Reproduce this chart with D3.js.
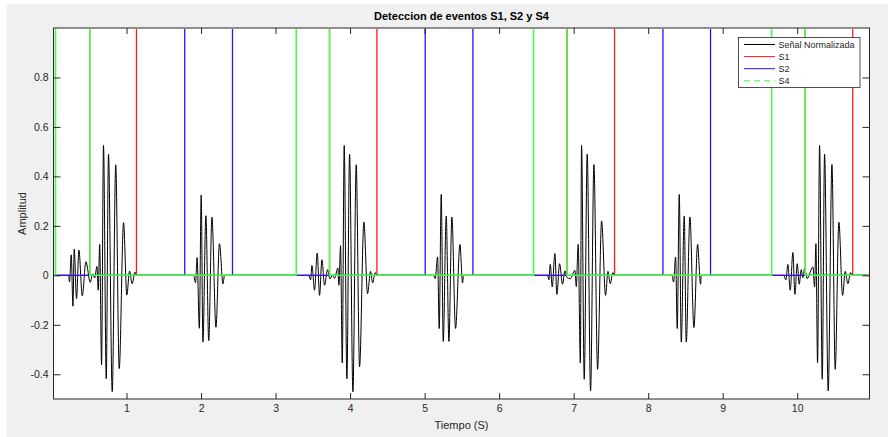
<!DOCTYPE html>
<html>
<head>
<meta charset="utf-8">
<script src="https://cdn.jsdelivr.net/npm/d3@7"></script>
<style>
  body { margin: 0; background: #fff; }
  text { font-family: "Liberation Sans", Arial, sans-serif; }
</style>
</head>
<body>
<svg id="chart" width="888" height="437"></svg>
<script>
// axis limits and ticks
const TIME_EXTENT = [0.02, 10.97]
const AMP_EXTENT = [-0.5, 1]
const xTicks = [1, 2, 3, 4, 5, 6, 7, 8, 9, 10]
const yTicks = [-0.4, -0.2, 0, 0.2, 0.4, 0.6, 0.8]

// normalized signal, read as [time (s), amplitude] at each turning point
const burst1 = [
  [0.222, 0], [0.235, -0.027], [0.258, 0.083], [0.281, -0.125], [0.298, 0.106],
  [0.329, -0.094], [0.361, 0.102], [0.406, -0.083], [0.455, 0.055], [0.513, -0.028],
  [0.546, 0.005], [0.573, -0.01], [0.603, 0.036], [0.620, -0.06], [0.640, 0.125],
  [0.665, -0.362], [0.691, 0.525], [0.728, -0.418], [0.758, 0.49], [0.808, -0.47],
  [0.855, 0.447], [0.902, -0.377], [0.960, 0.213], [1.004, -0.08], [1.040, 0.017],
  [1.076, -0.034], [1.113, 0.013], [1.134, 0],
]
const burst2 = [
  [1.899, 0], [1.926, -0.03], [1.947, 0.072], [1.977, -0.214], [2.002, 0.325],
  [2.025, -0.27], [2.065, 0.241], [2.103, -0.264], [2.146, 0.235], [2.200, -0.21],
  [2.247, 0.128], [2.294, -0.035], [2.315, 0],
]
const burst3 = [
  [3.443, 0], [3.470, -0.018], [3.488, 0.04], [3.523, -0.06], [3.559, 0.09],
  [3.590, -0.081], [3.622, 0.063], [3.657, -0.04], [3.698, 0.023], [3.729, -0.015],
  [3.760, 0], [3.792, -0.012], [3.836, 0.03], [3.850, -0.04], [3.872, 0.12],
  [3.895, -0.354], [3.921, 0.525], [3.957, -0.418], [3.993, 0.49], [4.038, -0.471],
  [4.082, 0.447], [4.127, -0.37], [4.185, 0.215], [4.234, -0.074], [4.275, 0.016],
  [4.302, -0.031], [4.337, 0.011], [4.364, 0],
]
const burst4 = [
  [5.120, 0], [5.143, -0.013], [5.174, 0.074], [5.196, -0.215], [5.223, 0.327],
  [5.250, -0.267], [5.290, 0.24], [5.326, -0.267], [5.366, 0.236], [5.415, -0.215],
  [5.474, 0.125], [5.509, -0.031], [5.523, 0],
]
const burst5 = [
  [6.650, 0], [6.668, -0.018], [6.686, 0.044], [6.713, -0.047], [6.748, 0.088],
  [6.775, -0.077], [6.811, 0.047], [6.851, -0.036], [6.883, 0.018], [6.909, -0.008],
  [6.954, -0.014], [7.017, 0.02], [7.035, -0.045], [7.061, 0.125], [7.090, -0.354],
  [7.106, 0.525], [7.142, -0.42], [7.182, 0.49], [7.227, -0.467], [7.272, 0.448],
  [7.321, -0.38], [7.375, 0.22], [7.428, -0.081], [7.460, 0.016], [7.491, -0.034],
  [7.527, 0.011], [7.545, 0],
]
const burst6 = [
  [8.318, 0], [8.341, -0.027], [8.368, 0.074], [8.390, -0.215], [8.417, 0.327],
  [8.444, -0.27], [8.484, 0.24], [8.511, -0.27], [8.560, 0.236], [8.614, -0.211],
  [8.663, 0.125], [8.703, -0.036], [8.712, 0],
]
const burst7 = [
  [9.817, 0], [9.848, -0.018], [9.875, 0.044], [9.906, -0.06], [9.942, 0.092],
  [9.969, -0.077], [10.000, 0.047], [10.027, -0.036], [10.054, 0.023], [10.076, -0.01],
  [10.099, 0.027], [10.134, -0.013], [10.211, 0.034], [10.233, -0.047], [10.251, 0.128],
  [10.273, -0.354], [10.300, 0.525], [10.336, -0.42], [10.367, 0.49], [10.416, -0.467],
  [10.466, 0.448], [10.510, -0.38], [10.559, 0.215], [10.609, -0.081], [10.644, 0.016],
  [10.680, -0.034], [10.716, 0.011], [10.743, 0],
]

// event detections: [rise, fall] of each unit pulse, in seconds
const s1Pulses = [[0.506, 1.133], [3.724, 4.360], [6.910, 7.549], [10.108, 10.745]]
const s2Pulses = [[1.781, 2.422], [5.008, 5.648], [8.198, 8.837]]
const s4Pulses = [[0.047, 0.506], [3.277, 3.724], [6.462, 6.910], [9.657, 10.108]]

const legendLabels = ['Señal Normalizada', 'S1', 'S2', 'S4']


const AXIS_COLOR = '#262626'
const frame = { left: 53.5, right: 869.5, top: 28, bottom: 399 }

const x = d3.scaleLinear().domain(TIME_EXTENT).range([frame.left, frame.right])
const y = d3.scaleLinear().domain(AMP_EXTENT).range([frame.bottom, frame.top])

function pulsesToSteps(pulses) {
  // unit pulses -> polyline of a 0/1 step signal over the whole time span
  const pts = [[TIME_EXTENT[0], 0]]
  pulses.forEach(([on, off]) => {
    pts.push([on, 0], [on, 1], [off, 1], [off, 0])
  })
  pts.push([TIME_EXTENT[1], 0])
  return pts
}

const signal = [[TIME_EXTENT[0], 0]]
  .concat(burst1, burst2, burst3, burst4, burst5, burst6, burst7)
  .concat([[TIME_EXTENT[1], 0]])

// S4 is dashed in the legend; at this sample density matlab draws it solid in the axes
const series = [
  { name: legendLabels[0], pts: signal, color: '#000', dash: null, curve: d3.curveMonotoneX, width: 1 },
  { name: legendLabels[1], pts: pulsesToSteps(s1Pulses), color: '#ff1a1a', dash: null, curve: d3.curveLinear, width: 1.3 },
  { name: legendLabels[2], pts: pulsesToSteps(s2Pulses), color: '#1a1aff', dash: null, curve: d3.curveLinear, width: 1.3 },
  { name: legendLabels[3], pts: pulsesToSteps(s4Pulses), color: '#3dff3d', dash: '6,4', curve: d3.curveLinear, width: 1.5 },
]

const svg = d3.select('#chart')

// figure background
svg.append('rect')
  .attr('x', 7).attr('y', 4)
  .attr('width', 881).attr('height', 433)
  .attr('fill', '#f0f0f0')

// clip just inside the box so the pulse tops (y = 1) hide under the border
svg.append('defs')
  .append('clipPath').attr('id', 'plot-clip')
  .append('rect')
    .attr('x', frame.left).attr('y', frame.top + 1)
    .attr('width', frame.right - frame.left)
    .attr('height', frame.bottom - frame.top - 1)

svg.append('rect')
  .attr('x', frame.left).attr('y', frame.top)
  .attr('width', frame.right - frame.left)
  .attr('height', frame.bottom - frame.top)
  .attr('fill', '#fff')

svg.append('g')
  .attr('clip-path', 'url(#plot-clip)')
  .selectAll('path')
  .data(series)
  .join('path')
    .attr('fill', 'none')
    .attr('stroke', d => d.color)
    .attr('stroke-width', d => d.width)
    .attr('d', d => d3.line().curve(d.curve).x(p => x(p[0])).y(p => y(p[1]))(d.pts))

// axes, MATLAB style: inward ticks on all four sides
const styleAxis = g => g
  .call(g => g.select('.domain').remove())
  .call(g => g.selectAll('line').attr('stroke', AXIS_COLOR))
  .call(g => g.selectAll('text')
    .attr('fill', AXIS_COLOR)
    .style('font-size', '10.5px')
    .style('font-family', '"Liberation Sans", Arial, sans-serif'))

svg.append('g')
  .attr('transform', `translate(0,${frame.bottom})`)
  .call(d3.axisBottom(x).tickValues(xTicks).tickSize(-6).tickPadding(6).tickFormat(d3.format('d')))
  .call(styleAxis)

svg.append('g')
  .attr('transform', `translate(0,${frame.top})`)
  .call(d3.axisTop(x).tickValues(xTicks).tickSize(-6).tickFormat(''))
  .call(styleAxis)

svg.append('g')
  .attr('transform', `translate(${frame.left},0)`)
  .call(d3.axisLeft(y).tickValues(yTicks).tickSize(-7).tickPadding(5).tickFormat(d => String(d)))
  .call(styleAxis)

svg.append('g')
  .attr('transform', `translate(${frame.right},0)`)
  .call(d3.axisRight(y).tickValues(yTicks).tickSize(-7).tickFormat(''))
  .call(styleAxis)

svg.append('rect')
  .attr('x', frame.left).attr('y', frame.top)
  .attr('width', frame.right - frame.left)
  .attr('height', frame.bottom - frame.top)
  .attr('fill', 'none')
  .attr('stroke', AXIS_COLOR)
  .attr('stroke-width', 1)

// labels
svg.append('text')
  .attr('x', (frame.left + frame.right) / 2)
  .attr('y', 20)
  .attr('text-anchor', 'middle')
  .style('font-size', '11px')
  .style('font-weight', 'bold')
  .attr('fill', '#000')
  .text('Deteccion de eventos S1, S2 y S4')

svg.append('text')
  .attr('x', (frame.left + frame.right) / 2)
  .attr('y', 429)
  .attr('text-anchor', 'middle')
  .style('font-size', '11px')
  .attr('fill', AXIS_COLOR)
  .text('Tiempo (S)')

svg.append('text')
  .attr('transform', `translate(26,${(frame.top + frame.bottom) / 2}) rotate(-90)`)
  .attr('text-anchor', 'middle')
  .style('font-size', '11px')
  .attr('fill', AXIS_COLOR)
  .text('Amplitud')

// legend
const legend = svg.append('g').attr('transform', 'translate(738.5,37.5)')

legend.append('rect')
  .attr('width', 121.5).attr('height', 50)
  .attr('fill', '#fff')
  .attr('stroke', AXIS_COLOR)
  .attr('stroke-width', 0.8)

legend.selectAll('g.item')
  .data(series)
  .join('g')
    .attr('class', 'item')
    .attr('transform', (d, i) => `translate(0,${7 + i * 12.1})`)
    .call(g => g.append('line')
      .attr('x1', 5.5).attr('x2', 36.5)
      .attr('stroke', d => d.color)
      .attr('stroke-width', 1)
      .attr('stroke-dasharray', d => d.dash))
    .call(g => g.append('text')
      .attr('x', 40)
      .attr('dy', '0.35em')
      .style('font-size', '9px')
      .attr('fill', AXIS_COLOR)
      .text(d => d.name))
</script>
</body>
</html>
